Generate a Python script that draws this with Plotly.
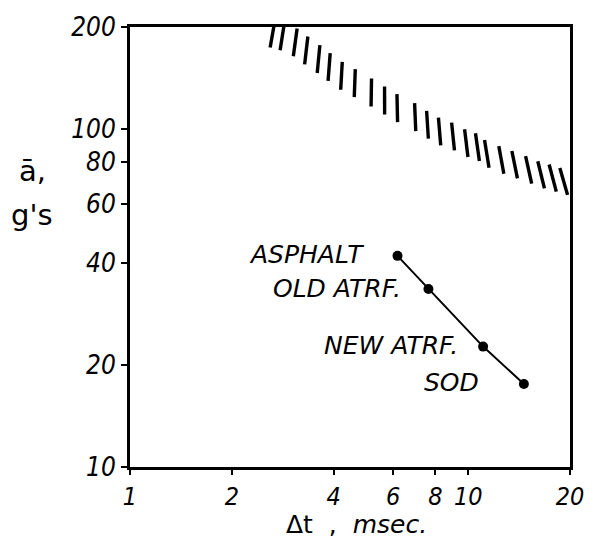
import math
import plotly.graph_objects as go

# ---- data ----
surfaces = ["ASPHALT", "OLD ATRF.", "NEW ATRF.", "SOD"]
dt_msec = [6.18, 7.63, 11.07, 14.61]
accel_g = [42.1, 33.6, 22.7, 17.6]

# hatched limit band (centres of the hatch strokes)
hatch_dt = [2.64, 2.82, 3.08, 3.32, 3.61, 3.88, 4.22, 4.62, 5.17, 5.66, 6.17, 6.97,
            7.58, 8.23, 9.02, 9.87, 10.65, 11.35, 12.53, 13.72, 15.09, 16.43, 17.78, 19.16]
hatch_g = [191, 187.5, 180, 170.5, 160.8, 152.3, 143.5, 136.5, 128.1, 121.3, 115.1, 108.3,
           102.8, 98.2, 94.9, 90.7, 88.3, 84.3, 80.9, 78.3, 75.6, 73.1, 71.5, 69.9]

x_ticks = [1, 2, 4, 6, 8, 10, 20]
x_ticklabels = ["1", "2", "4", "6", "8", "10", "20"]
y_ticks = [10, 20, 40, 60, 80, 100, 200]
y_ticklabels = ["10", "20", "40", "60", "80", "100", "200"]

x_title = "Δt  ,  <i>msec.</i>"
y_title_1 = "ā,"
y_title_2 = "g's"

# ---- styling ----
FONT = "DejaVu Sans"
NUMFONT = "DejaVu Sans Condensed, DejaVu Sans"
n = len(hatch_dt)
hatch_angles = [10 - 26 * i / (n - 1) for i in range(n)]

fig = go.Figure()

fig.add_trace(go.Scatter(
    x=hatch_dt, y=hatch_g, mode="markers",
    marker=dict(symbol="line-ns", size=20, angle=hatch_angles,
                line=dict(color="black", width=3.4), color="black"),
    showlegend=False, hoverinfo="skip"))

fig.add_trace(go.Scatter(
    x=dt_msec, y=accel_g, mode="lines+markers",
    line=dict(color="black", width=2),
    marker=dict(symbol="circle", size=10, color="black"),
    showlegend=False))

label_shift = [-32, -25, -23, -43]
for s, xv, yv, sh in zip(surfaces, dt_msec, accel_g, label_shift):
    fig.add_annotation(x=math.log10(xv), y=math.log10(yv), xref="x", yref="y",
                       text=s, showarrow=False, xanchor="right", yanchor="middle",
                       xshift=sh, yshift=1,
                       font=dict(family=FONT, size=25, color="black", style="italic"))

fig.add_annotation(x=0.5147, y=-0.13, xref="paper", yref="paper", text=x_title,
                   showarrow=False, xanchor="center", yanchor="middle",
                   font=dict(family=FONT, size=25, color="black"))
fig.add_annotation(x=-0.222, y=0.672, xref="paper", yref="paper", text=y_title_1,
                   showarrow=False, xanchor="center", yanchor="middle",
                   font=dict(family=FONT, size=29, color="black"))
fig.add_annotation(x=-0.222, y=0.572, xref="paper", yref="paper", text=y_title_2,
                   showarrow=False, xanchor="center", yanchor="middle",
                   font=dict(family=FONT, size=29, color="black"))

fig.update_xaxes(type="log", range=[0, math.log10(20)],
                 tickvals=x_ticks, ticktext=x_ticklabels,
                 ticks="outside", ticklen=5, tickwidth=2, tickcolor="black",
                 showline=True, linewidth=3, linecolor="black", mirror=True,
                 showgrid=False, zeroline=False,
                 tickfont=dict(family=NUMFONT, size=25, color="black", style="italic"))
fig.update_yaxes(type="log", range=[1, math.log10(200)],
                 tickvals=y_ticks, ticktext=y_ticklabels,
                 ticks="outside", ticklen=6, tickwidth=2, tickcolor="black",
                 showline=True, linewidth=3, linecolor="black", mirror=True,
                 showgrid=False, zeroline=False,
                 tickfont=dict(family=NUMFONT, size=26, color="black", style="italic"))

fig.update_layout(width=596, height=542,
                  margin=dict(l=130, r=24, t=27, b=75),
                  paper_bgcolor="white", plot_bgcolor="white",
                  showlegend=False)

fig.write_html("out.html", config={"displayModeBar": False},
               post_script="document.body.style.margin='0px';document.body.style.overflow='hidden';")
